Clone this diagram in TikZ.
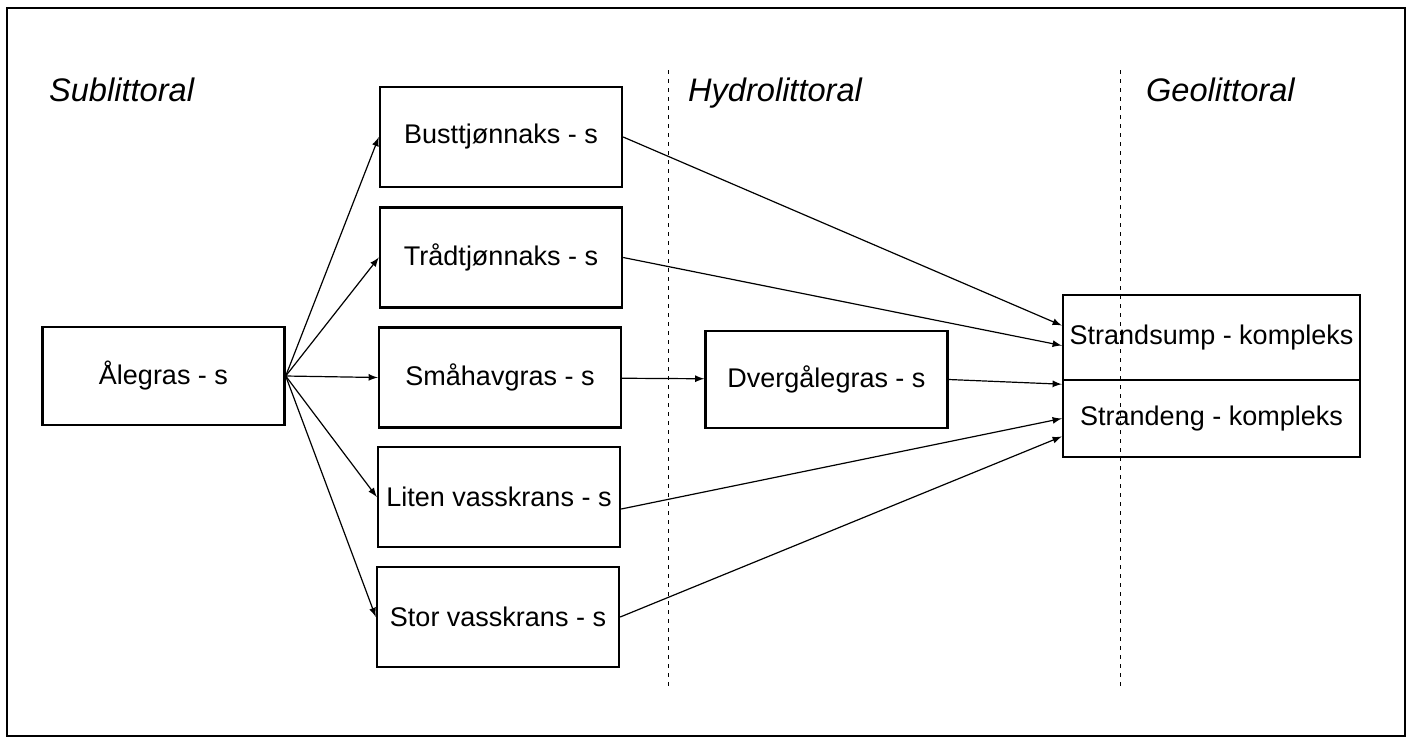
\documentclass[tikz,border=0pt]{standalone}
\usepackage{fontspec}
\setmainfont{Liberation Sans}
\begin{document}
\begin{tikzpicture}[x=.5pt,y=-.5pt,>=latex,
  sam/.style={draw,line width=1.2pt,minimum width=121pt,minimum height=50pt,font=\fontsize{13.5}{16}\selectfont},
  sone/.style={anchor=base west,font=\fontsize{16.3}{19}\selectfont\itshape}]
\useasboundingbox(0,0)rectangle(1412,740);
\draw[line width=.7pt](7,8)rectangle(1405,736);
\draw[dash pattern=on 2pt off 2.5pt](668,70)--(668,690)(1120,70)--(1120,690);
\node[sone]at(42,101){Sublittoral};\node[sone]at(681,101){Hydrolittoral};\node[sone]at(1139,101){Geolittoral};
\node[sam,minimum height=49pt](alegras)at(163.5,376){Ålegras - s};
\node[sam](bust)at(501,137){Busttjønnaks - s};
\node[sam](trad)at(501,257.5){Trådtjønnaks - s};
\node[sam](smahav)at(500,377.5){Småhavgras - s};
\node[sam](liten)at(499,497){Liten vasskrans - s};
\node[sam](stor)at(498,617){Stor vasskrans - s};
\node[sam,minimum height=48.5pt](dverg)at(826.5,379.5){Dvergålegras - s};
\node[sam,minimum width=148.5pt,minimum height=42.5pt](strandsump)at(1211.5,337.5){Strandsump - kompleks};
\node[sam,minimum width=148.5pt,minimum height=38.5pt](strandeng)at(1211.5,418.5){Strandeng - kompleks};
\begin{scope}[line width=.6pt]
\foreach \n in {bust,trad,smahav,liten,stor}\draw[->](alegras.east)--(\n.west);
\draw[->](smahav)--(dverg);
\draw[->](bust.east)--([yshift=6pt]strandsump.west);
\draw[->](trad.east)--([yshift=-4pt]strandsump.west);
\draw[->](dverg.east)--([yshift=-1.5pt]strandsump.south west);
\draw[->]([yshift=-6pt]liten.east)--(strandeng.west);
\draw[->](stor.east)--([yshift=-9pt]strandeng.west);
\end{scope}
\end{tikzpicture}
\end{document}
